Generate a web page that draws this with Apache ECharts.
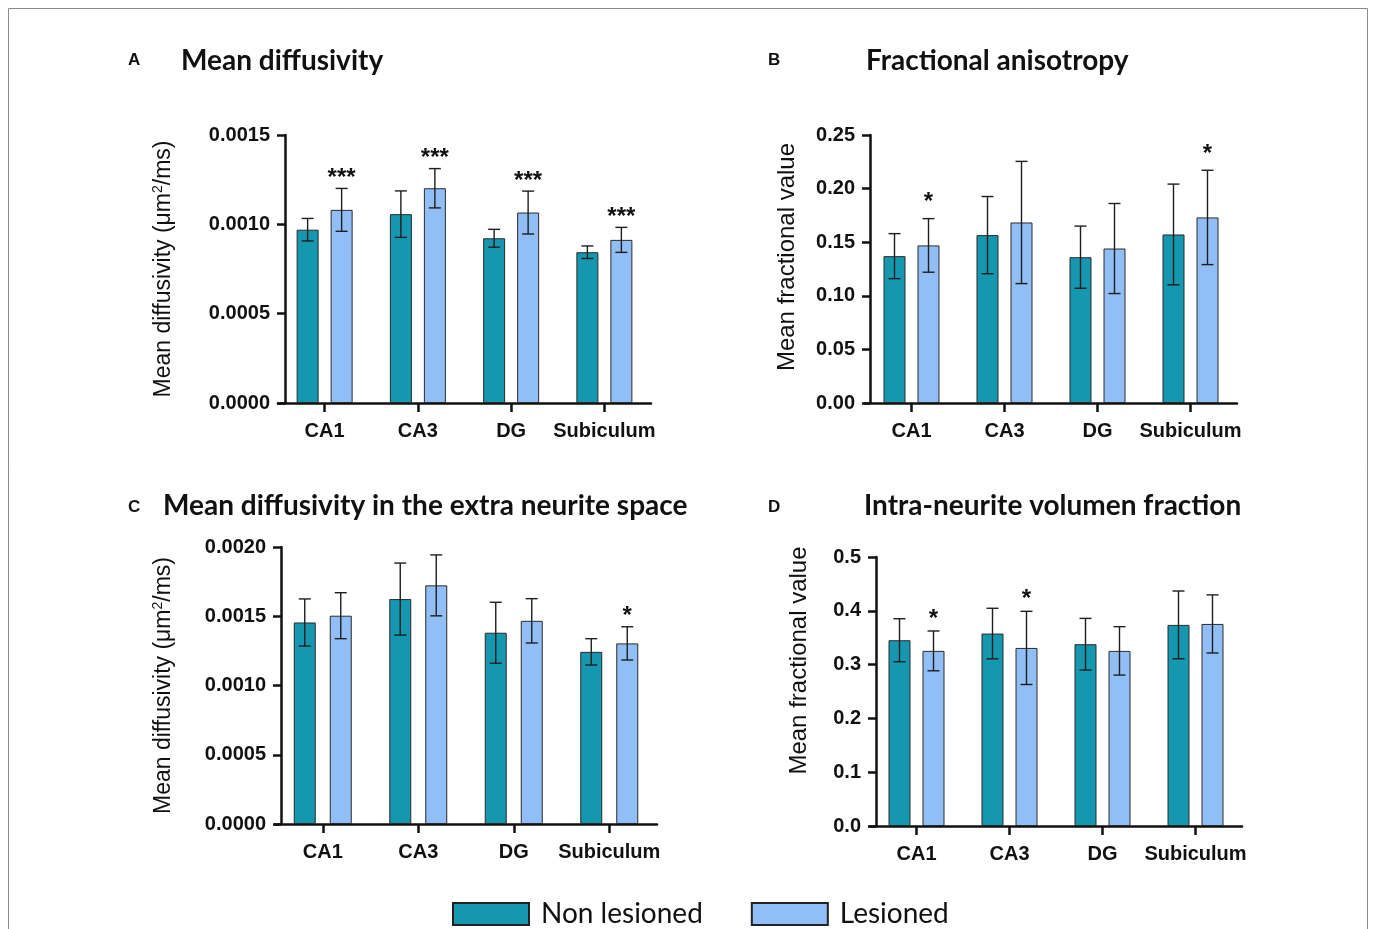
<!DOCTYPE html>
<html>
<head>
<meta charset="utf-8">
<script src="https://cdn.jsdelivr.net/npm/echarts@6/dist/echarts.min.js"></script>
<style>
html,body{margin:0;padding:0;background:#fff;}
#chart{width:1373px;height:929px;}
</style>
</head>
<body>
<div id="chart"></div>
<script>
const categories = ['CA1', 'CA3', 'DG', 'Subiculum'];
const seriesNames = ['Non lesioned', 'Lesioned'];

// A: Mean diffusivity
const mdNonMean = [0.00097, 0.001057, 0.000922, 0.000844];
const mdNonErr  = [0.000063, 0.00013, 0.00005, 0.000035];
const mdLesMean = [0.001081, 0.001202, 0.001066, 0.000913];
const mdLesErr  = [0.00012, 0.00011, 0.00012, 0.00007];
const mdStars   = ['***', '***', '***', '***'];
const mdTicks   = [0, 0.0005, 0.0010, 0.0015];

// B: Fractional anisotropy
const faNonMean = [0.137, 0.1566, 0.136, 0.1572];
const faNonErr  = [0.021, 0.036, 0.029, 0.047];
const faLesMean = [0.147, 0.1684, 0.1441, 0.1731];
const faLesErr  = [0.025, 0.057, 0.042, 0.044];
const faStars   = ['*', '', '', '*'];
const faTicks   = [0, 0.05, 0.10, 0.15, 0.20, 0.25];

// C: Mean diffusivity in the extra neurite space
const mdeNonMean = [0.001455, 0.001624, 0.001381, 0.001243];
const mdeNonErr  = [0.00017, 0.00026, 0.00022, 0.000095];
const mdeLesMean = [0.001504, 0.001723, 0.001467, 0.001304];
const mdeLesErr  = [0.000166, 0.00022, 0.00016, 0.00012];
const mdeStars   = ['', '', '', '*'];
const mdeTicks   = [0, 0.0005, 0.0010, 0.0015, 0.0020];

// D: Intra-neurite volumen fraction
const ndiNonMean = [0.3453, 0.3577, 0.3379, 0.3738];
const ndiNonErr  = [0.040, 0.047, 0.048, 0.063];
const ndiLesMean = [0.3255, 0.331, 0.3255, 0.3756];
const ndiLesErr  = [0.037, 0.068, 0.045, 0.054];
const ndiStars   = ['*', '*', '', ''];
const ndiTicks   = [0, 0.1, 0.2, 0.3, 0.4, 0.5];

const DARK = '#1597AF';
const LIGHT = '#91BFF5';
const INK = '#111111';
const SANS = '"Liberation Sans", Arial, sans-serif';

const panels = [
  { grid: {left: 278, top: 135, width: 373, height: 268}, yOffset: -7, ticks: mdTicks, dec: 4,
    name: '{t|Mean diffusivity (μm}{s|2}{t|/ms)}', nameSize: 23, nameGap: 108, namePad: [0,0,0,0],
    non: [mdNonMean, mdNonErr], les: [mdLesMean, mdLesErr], stars: mdStars, starGap: 10, dx: 17 },
  { grid: {left: 865, top: 135, width: 372, height: 268}, yOffset: -5, ticks: faTicks, dec: 2,
    name: '{t|Mean fractional value}', nameSize: 24, nameGap: 70, namePad: [0,0,0,24],
    non: [faNonMean, faNonErr], les: [faLesMean, faLesErr], stars: faStars, starGap: 16, dx: 17 },
  { grid: {left: 275, top: 547, width: 382, height: 277}, yOffset: -6, ticks: mdeTicks, dec: 4,
    name: '{t|Mean diffusivity (μm}{s|2}{t|/ms)}', nameSize: 23, nameGap: 104, namePad: [0,0,0,0],
    non: [mdeNonMean, mdeNonErr], les: [mdeLesMean, mdeLesErr], stars: mdeStars, starGap: 10, dx: 18 },
  { grid: {left: 870, top: 557, width: 372, height: 269}, yOffset: -6, ticks: ndiTicks, dec: 1,
    name: '{t|Mean fractional value}', nameSize: 24, nameGap: 64, namePad: [0,0,0,62],
    non: [ndiNonMean, ndiNonErr], les: [ndiLesMean, ndiLesErr], stars: ndiStars, starGap: 12, dx: 17 }
];

const grids = [], xAxes = [], yAxes = [], series = [];

function errSeries(idx, mean, err, dx, stars, starGap) {
  return {
    type: 'custom',
    xAxisIndex: idx, yAxisIndex: idx,
    z: 10,
    data: mean.map((m, i) => [i, m - err[i], m + err[i]]),
    encode: {x: 0, y: [1, 2]},
    renderItem: function (params, api) {
      const i = api.value(0);
      const hi = api.coord([i, api.value(2)]);
      const lo = api.coord([i, api.value(1)]);
      const x = hi[0] + dx;
      const cap = 6;
      const st = {stroke: '#1e1e1e', lineWidth: 1.4};
      const children = [
        {type: 'line', shape: {x1: x, y1: hi[1], x2: x, y2: lo[1]}, style: st},
        {type: 'line', shape: {x1: x - cap, y1: hi[1], x2: x + cap, y2: hi[1]}, style: st},
        {type: 'line', shape: {x1: x - cap, y1: lo[1], x2: x + cap, y2: lo[1]}, style: st}
      ];
      if (stars && stars[params.dataIndex]) {
        children.push({type: 'text', style: {
          text: stars[params.dataIndex], x: x, y: hi[1] - starGap,
          align: 'center', verticalAlign: 'middle',
          font: 'bold 24px ' + SANS, fill: INK
        }});
      }
      return {type: 'group', children: children};
    }
  };
}

panels.forEach((p, idx) => {
  grids.push(Object.assign({containLabel: false}, p.grid));
  xAxes.push({
    type: 'category', gridIndex: idx, data: categories,
    axisLine: {show: true, lineStyle: {color: INK, width: 2.5}},
    axisTick: {show: true, alignWithLabel: true, length: 9, lineStyle: {color: INK, width: 2.5}},
    axisLabel: {color: INK, fontWeight: 'bold', fontSize: 20, margin: 18, interval: 0, fontFamily: SANS},
    splitLine: {show: false}
  });
  const tk = p.ticks;
  yAxes.push({
    type: 'value', gridIndex: idx, offset: p.yOffset,
    min: tk[0], max: tk[tk.length - 1], interval: tk[1] - tk[0],
    axisLine: {show: true, lineStyle: {color: INK, width: 2.5}},
    axisTick: {show: true, length: 8, lineStyle: {color: INK, width: 2.5}},
    axisLabel: {color: INK, fontWeight: 'bold', fontSize: 20, margin: 15, fontFamily: SANS,
      formatter: v => Number(v).toFixed(p.dec)},
    splitLine: {show: false},
    name: p.name, nameLocation: 'middle', nameGap: p.nameGap,
    nameTextStyle: {
      padding: p.namePad,
      rich: {
        t: {fontSize: p.nameSize, color: INK, fontFamily: SANS, lineHeight: 26},
        s: {fontSize: 14, color: INK, fontFamily: SANS, verticalAlign: 'top', lineHeight: 26, padding: [0, 0, 10, 0]}
      }
    }
  });
  series.push({
    name: seriesNames[0], type: 'bar', xAxisIndex: idx, yAxisIndex: idx,
    data: p.non[0], barWidth: 22, barGap: (p.dx * 2 - 22) / 22 * 100 + '%',
    itemStyle: {color: DARK, borderColor: '#2a2a2a', borderWidth: 1}
  });
  series.push({
    name: seriesNames[1], type: 'bar', xAxisIndex: idx, yAxisIndex: idx,
    data: p.les[0], barWidth: 22, barGap: (p.dx * 2 - 22) / 22 * 100 + '%',
    itemStyle: {color: LIGHT, borderColor: '#2a2a2a', borderWidth: 1}
  });
  series.push(errSeries(idx, p.non[0], p.non[1], -p.dx, null, 0));
  series.push(errSeries(idx, p.les[0], p.les[1], p.dx, p.stars, p.starGap));
});

const titleFont = 'bold 28px Lato, "Open Sans", sans-serif';
const letterFont = 'bold 17px ' + SANS;
function txt(text, x, y, font) {
  return {type: 'text', x: x, y: y, silent: true,
    style: {text: text, font: font, fill: INK, align: 'left', verticalAlign: 'middle'}};
}

const option = {
  animation: false,
  backgroundColor: '#ffffff',
  grid: grids, xAxis: xAxes, yAxis: yAxes, series: series,
  legend: {
    data: seriesNames, left: 452, top: 900, padding: 0,
    itemWidth: 76, itemHeight: 22, itemGap: 48, icon: 'rect',
    itemStyle: {borderColor: '#222', borderWidth: 2},
    textStyle: {fontFamily: 'Lato, sans-serif', fontSize: 28, color: INK, padding: [0, 0, 0, 7]}
  },
  graphic: [
    {type: 'rect', silent: true, shape: {x: 8.5, y: 8.5, width: 1359, height: 980},
      style: {fill: 'none', stroke: '#8a8a8a', lineWidth: 1}},
    txt('A', 128, 60, letterFont),
    txt('Mean diffusivity', 181, 61, titleFont),
    txt('B', 768, 60, letterFont),
    txt('Fractional anisotropy', 866, 61, titleFont),
    txt('C', 128, 507, letterFont),
    txt('Mean diffusivity in the extra neurite space', 163, 506, titleFont),
    txt('D', 768, 507, letterFont),
    txt('Intra-neurite volumen fraction', 864, 506, titleFont)
  ]
};

const chart = echarts.init(document.getElementById('chart'), null, {renderer: 'canvas'});
chart.setOption(option);
</script>
</body>
</html>
